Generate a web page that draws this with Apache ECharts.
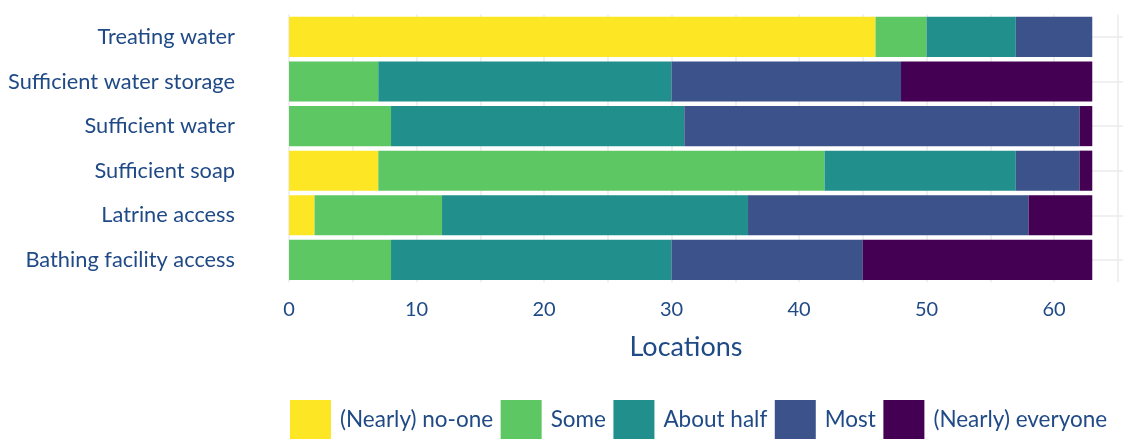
<!DOCTYPE html>
<html><head><meta charset="utf-8">
<script src="https://cdn.jsdelivr.net/npm/echarts@6/dist/echarts.min.js"></script>
<style>html,body{margin:0;padding:0;background:#fff}#c{width:1123px;height:439px}</style>
</head><body><div id="c"></div>
<script>
const categories = ['Treating water','Sufficient water storage','Sufficient water','Sufficient soap','Latrine access','Bathing facility access'];
const seriesNames = ['(Nearly) no-one','Some','About half','Most','(Nearly) everyone'];
const noOne    = [46, 0, 0, 7, 2, 0];
const some     = [4, 7, 8, 35, 10, 8];
const aboutHalf= [7, 23, 23, 15, 24, 22];
const most     = [6, 18, 31, 5, 22, 15];
const everyone = [0, 15, 1, 1, 5, 18];
const xLabelTicks = [0,10,20,30,40,50,60];
const xGridTicks = [0,5,10,15,20,25,30,35,40,45,50,55,60,65];
const colors = ['#FDE725','#5DC863','#21908C','#3B528B','#440154'];
const txt = '#1F4A86';
const font = 'Lato';
const values = [noOne, some, aboutHalf, most, everyone];
const chart = echarts.init(document.getElementById('c'), null, {renderer:'canvas'});
chart.setOption({
  animation:false,
  textStyle:{fontFamily:font},
  legend:{
    left:285, top:395, itemWidth:41, itemHeight:40, itemGap:7.5,
    icon:'rect',
    textStyle:{color:txt, fontSize:22.5, fontFamily:font, padding:[6,0,0,4]},
    data:seriesNames
  },
  grid:{left:249, top:14.6, right:0, height:267.6, containLabel:false},
  xAxis:{
    type:'value', min:-3.14, max:65.41,
    name:'Locations', nameLocation:'middle', nameGap:52,
    nameTextStyle:{color:txt, fontSize:27, fontFamily:font},
    axisLine:{show:false},
    axisTick:{show:false, customValues:xGridTicks},
    axisLabel:{color:txt, fontSize:20, fontFamily:font, margin:17, customValues:xLabelTicks},
    splitLine:{show:true, lineStyle:{color:'#ebebeb', width:1.5}}
  },
  yAxis:{
    type:'category', data:categories, inverse:true,
    axisLine:{show:false},
    axisTick:{show:true, inside:true, alignWithLabel:true, length:880, lineStyle:{color:'#ebebeb', width:1.5}},
    axisLabel:{color:txt, fontSize:21.8, fontFamily:font, margin:14},
    splitLine:{show:false}
  },
  series: seriesNames.map((n,i)=>({
    name:n, type:'bar', stack:'total', data:values[i],
    barCategoryGap:'10%',
    itemStyle:{color:colors[i]}
  }))
});
</script></body></html>
